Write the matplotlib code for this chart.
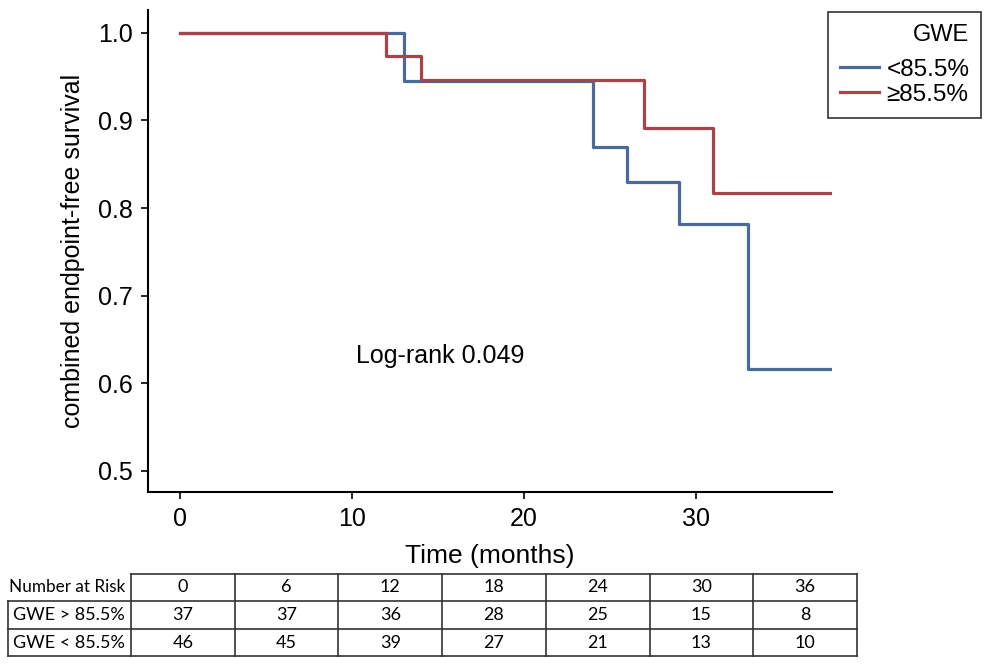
import numpy as np
import matplotlib
matplotlib.use("Agg")
import matplotlib.pyplot as plt
from matplotlib.lines import Line2D

BLUE, RED = "#4a6a9a", "#a8434a"

# Kaplan-Meier step data (time in months, survival after each step)
blue_t = [0, 13, 24, 26, 29, 33, 37.9]
blue_s = [1.0, 0.945, 0.870, 0.830, 0.782, 0.616, 0.616]
red_t = [0, 12, 14, 27, 31, 37.9]
red_s = [1.0, 0.974, 0.946, 0.891, 0.817, 0.817]

legend_labels = ["<85.5%", "\u226585.5%"]
x_ticks = [0, 10, 20, 30]
y_ticks = [0.5, 0.6, 0.7, 0.8, 0.9, 1.0]

risk_times = ["0", "6", "12", "18", "24", "30", "36"]
risk_rows = ["GWE > 85.5%", "GWE < 85.5%"]
risk_hi = [37, 37, 36, 28, 25, 15, 8]
risk_lo = [46, 45, 39, 27, 21, 13, 10]

plt.rcParams.update({"font.family": ["Liberation Sans", "DejaVu Sans"]})

fig = plt.figure(figsize=(9.96, 6.66), dpi=100)
ax = fig.add_axes([148 / 996, 1 - 492 / 666, (832 - 148) / 996, (492 - 10) / 666])

ax.step(blue_t, blue_s, where="post", color=BLUE, lw=2.3)
ax.step(red_t, red_s, where="post", color=RED, lw=2.3)

ax.set_xlim(-1.86, 37.9)
ax.set_ylim(0.476, 1.026)
ax.set_xticks(x_ticks)
ax.set_yticks(y_ticks)
ax.set_yticklabels([f"{v:.1f}" for v in y_ticks])
ax.tick_params(labelsize=18, length=5, width=1.2, color="black", pad=6)
for s in ("top", "right"):
    ax.spines[s].set_visible(False)
for s in ("left", "bottom"):
    ax.spines[s].set_linewidth(1.5)
ax.set_ylabel("combined endpoint-free survival", fontsize=18, labelpad=9)
ax.set_xlabel("Time (months)", fontsize=19, labelpad=9)
ax.text(15.1, 0.631, "Log-rank 0.049", fontsize=18, ha="center", va="center")

handles = [Line2D([], [], color=BLUE, lw=2.3), Line2D([], [], color=RED, lw=2.3)]
leg = fig.legend(handles, legend_labels, title="GWE", loc="upper left",
                 bbox_to_anchor=(828 / 996, 1 - 12 / 666), fontsize=17.5,
                 title_fontsize=17, frameon=True, fancybox=False, edgecolor="black",
                 handlelength=1.6, handletextpad=0.3, labelspacing=0.12,
                 borderpad=0.5, borderaxespad=0)
leg.get_frame().set_linewidth(1.2)
leg._legend_box.align = "right"
leg._legend_box.sep = 9

# number-at-risk table drawn on a pixel overlay
tab = fig.add_axes([0, 0, 1, 1])
tab.set_xlim(0, 996)
tab.set_ylim(666, 0)
tab.axis("off")
col_x = np.linspace(131, 857, len(risk_times) + 1)
row_y = [574, 601, 629, 656]
lk = dict(color="#333333", lw=1.2)
tab.plot([col_x[0], col_x[-1]], [row_y[0], row_y[0]], **lk)
for y in row_y[1:]:
    tab.plot([8, col_x[-1]], [y, y], **lk)
for x in col_x:
    tab.plot([x, x], [row_y[0], row_y[-1]], **lk)
tab.plot([8, 8], [row_y[1], row_y[-1]], **lk)

tf = dict(family=["Lato", "DejaVu Sans"], va="center")
tab.text(67, (row_y[0] + row_y[1]) / 2, "Number at Risk", ha="center", fontsize=12.3, **tf)
for i, lab in enumerate(risk_rows):
    tab.text(69, (row_y[i + 1] + row_y[i + 2]) / 2, lab, ha="center", fontsize=13, **tf)
for j, t in enumerate(risk_times):
    cx = (col_x[j] + col_x[j + 1]) / 2
    tab.text(cx, (row_y[0] + row_y[1]) / 2, t, ha="center", fontsize=13, **tf)
    tab.text(cx, (row_y[1] + row_y[2]) / 2, str(risk_hi[j]), ha="center", fontsize=13, **tf)
    tab.text(cx, (row_y[2] + row_y[3]) / 2, str(risk_lo[j]), ha="center", fontsize=13, **tf)

fig.savefig("out.png", dpi=100)
